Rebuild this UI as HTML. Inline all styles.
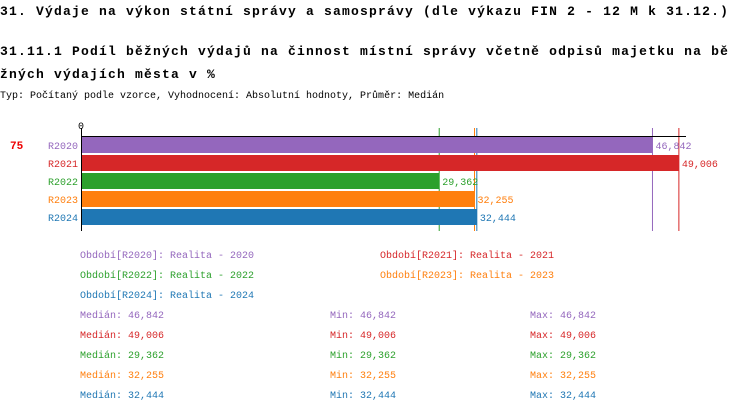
<!DOCTYPE html>
<html><head><meta charset="utf-8"><style>
body{margin:0;background:#fff;width:750px;height:412px;overflow:hidden}
svg text{font-family:"Liberation Mono",monospace}
</style></head><body>
<svg width="750" height="412">
<text x="0" y="15" font-size="13" font-weight="bold" letter-spacing="1.2">31. Výdaje na výkon státní správy a samosprávy (dle výkazu FIN 2 - 12 M k 31.12.)</text>
<text x="0" y="55" font-size="13" font-weight="bold" letter-spacing="1.2">31.11.1 Podíl běžných výdajů na činnost místní správy včetně odpisů majetku na bě</text>
<text x="0" y="78" font-size="13" font-weight="bold" letter-spacing="1.2">žných výdajích města v %</text>
<text x="0" y="98" font-size="10">Typ: Počítaný podle vzorce, Vyhodnocení: Absolutní hodnoty, Průměr: Medián</text>
<text x="10" y="149" font-size="11" font-weight="bold" fill="#e00" font-family="Liberation Sans">75</text>
<g id="plot"></g>
<g id="legend"></g>
</svg>
<script>
const categories=["R2020","R2021","R2022","R2023","R2024"];
const values=[46.842,49.006,29.362,32.255,32.444];
const labels=["46,842","49,006","29,362","32,255","32,444"];
const colors=["#9467bd","#d62728","#2ca02c","#ff7f0e","#1f77b4"];
const NS="http://www.w3.org/2000/svg";
const x0=81,sc=12.2;
function xs(v){return x0+v*sc;}
function yb(i){return 137+i*18;}
const plot=document.getElementById('plot');
function mk(t,a,p){const e=document.createElementNS(NS,t);for(const k in a)e.setAttribute(k,a[k]);(p||plot).appendChild(e);return e;}
values.forEach((v,i)=>{
 const l=mk('line',{x1:xs(v),x2:xs(v),y1:128,y2:231,stroke:colors[i],'stroke-width':1});
 
 
});
const ax=mk('line',{x1:x0,x2:686,y1:136.5,y2:136.5,stroke:'#000','stroke-width':1});


const ay=mk('line',{x1:x0+0.5,x2:x0+0.5,y1:128,y2:231,stroke:'#000','stroke-width':1});


const z=mk('text',{x:x0-3,y:129,'font-size':10});z.textContent='0';


values.forEach((v,i)=>{
 const r=mk('rect',{x:x0+1,y:yb(i),width:xs(v)-x0-1,height:16,fill:colors[i]});
 
 
 const c=mk('text',{x:x0-3,y:yb(i)+12,'font-size':10,fill:colors[i],'text-anchor':'end'});c.textContent=categories[i];
 
 
 const t=mk('text',{x:xs(v)+3,y:yb(i)+12,'font-size':10,fill:colors[i]});t.textContent=labels[i];
 
 
});
const lg=document.getElementById('legend');
const lpos=[[80,258],[380,258],[80,278],[380,278],[80,298]];
categories.forEach((c,i)=>{
 const t=mk('text',{x:lpos[i][0],y:lpos[i][1],'font-size':10,fill:colors[i]},lg);t.textContent='Období['+c+']: Realita - '+c.slice(1);
 
 
 const y=318+i*20;
 const a=mk('text',{x:80,y:y,'font-size':10,fill:colors[i]},lg);a.textContent='Medián: '+labels[i];
 
 
 const b=mk('text',{x:330,y:y,'font-size':10,fill:colors[i]},lg);b.textContent='Min: '+labels[i];
 
 
 const d=mk('text',{x:530,y:y,'font-size':10,fill:colors[i]},lg);d.textContent='Max: '+labels[i];
 
 
});
</script>
</body></html>
